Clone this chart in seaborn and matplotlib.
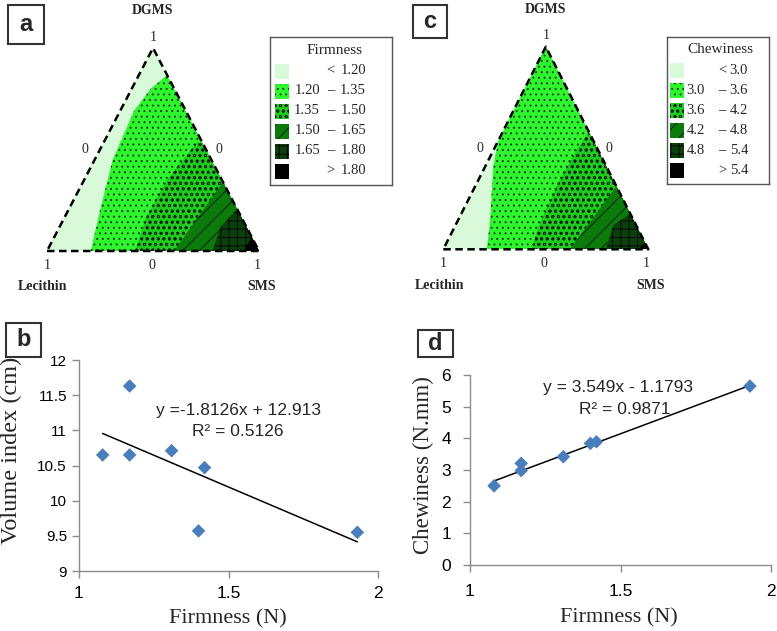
import numpy as np
import pandas as pd
import seaborn as sns
import matplotlib.pyplot as plt
from matplotlib.patches import Polygon, Rectangle

# --- data ---
firmness = [1.08, 1.17, 1.17, 1.31, 1.40, 1.42, 1.93]
volume_index = [10.65, 11.63, 10.65, 10.71, 9.57, 10.47, 9.55]
chewiness = [2.50, 3.21, 2.98, 3.42, 3.84, 3.89, 5.65]

fit_b = (-1.8126, 12.913, 0.5126)   # slope, intercept, R2
fit_d = (3.549, -1.1793, 0.9871)

firm_bins = [1.20, 1.35, 1.50, 1.65, 1.80]
chew_bins = [3.0, 3.6, 4.2, 4.8, 5.4]

# contour boundaries in the ternary triangle (u across the base, v up to DGMS apex)
firm_bounds = [
    ([0.206, 0.25, 0.31, 0.41, 0.49, 0.57, 0.70], [0.0, 0.20, 0.45, 0.69, 0.80, 0.87, 0.88]),
    ([0.415, 0.47, 0.566, 0.706, 0.80], [0.0, 0.17, 0.35, 0.534, 0.534]),
    ([0.60, 0.85, 0.90], [0.0, 0.37, 0.40]),
    ([0.78, 0.82, 0.90, 0.95], [0.0, 0.12, 0.21, 0.22]),
    ([0.93, 0.97, 1.00], [0.0, 0.08, 0.09]),
]
chew_bounds = [
    ([0.212, 0.228, 0.244, 0.27, 0.0], [0.0, 0.14, 0.41, 0.545, 1.2]),
    ([0.431, 0.463, 0.553, 0.65, 0.70, 0.80], [0.0, 0.11, 0.31, 0.49, 0.565, 0.565]),
    ([0.618, 0.85, 0.90], [0.0, 0.32, 0.34]),
    ([0.794, 0.83, 0.92], [0.0, 0.12, 0.18]),
    ([0.951, 0.99, 1.02], [0.0, 0.04, 0.05]),
]

fills = ['#d9fad9', '#2ef52e', '#1fcb1f', '#0c7a0c', '#0b3f0b', '#000000']
hatches = ['', '...', 'ooo', '//', '++', '']
hatch_cols = ['#d9fad9', '#0b2e0b', '#062a06', '#021c02', '#000000', '#000000']

W, H = 777, 631
sns.set_theme(style='white')
plt.rcParams['font.family'] = ['Liberation Sans', 'DejaVu Sans']
plt.rcParams['hatch.linewidth'] = 0.6
serif = ['Liberation Serif', 'DejaVu Serif']

fig = plt.figure(figsize=(W / 100, H / 100), dpi=100)


def px_axes(x0, y0, x1, y1):
    return fig.add_axes([x0 / W, 1 - y1 / H, (x1 - x0) / W, (y1 - y0) / H])


def draw_ternary(ax, bounds):
    ax.set_xlim(0, 1)
    ax.set_ylim(0, 1)
    ax.axis('off')
    tri = Polygon([(0, 0), (1, 0), (0.5, 1)], closed=True, fc=fills[0], ec='none')
    ax.add_patch(tri)
    for (u, v), fc, h, hc in zip(bounds, fills[1:], hatches[1:], hatch_cols[1:]):
        pts = [(u[0], -0.05)] + list(zip(u, v)) + [(1.5, v[-1]), (1.5, -0.05)]
        p = Polygon(pts, closed=True, fc=fc, ec=hc, hatch=h, lw=0)
        ax.add_patch(p)
        p.set_clip_path(tri)
    ax.plot([0, 1, 0.5, 0], [0, 0, 1, 0], color='black', ls=(0, (3, 1.8)),
            lw=1.8, clip_on=False)
    kw = dict(family=serif, fontsize=10, ha='center', va='center')
    ax.text(0.5, 1.185, 'DGMS', fontweight='bold', **kw)
    ax.text(0.5, 1.054, '1', **kw)
    ax.text(0.179, 0.5, '0', **kw)
    ax.text(0.81, 0.5, '0', **kw)
    ax.text(0.0, -0.069, '1', **kw)
    ax.text(0.493, -0.069, '0', **kw)
    ax.text(0.99, -0.069, '1', **kw)
    ax.text(-0.02, -0.177, 'Lecithin', fontweight='bold', **kw)
    ax.text(1.013, -0.177, 'SMS', fontweight='bold', **kw)


def draw_legend(box, title, bins, fmt, sw_x, title_x, lo_r, dash_c, hi_r):
    x0, y0, x1, y1 = box
    lax = px_axes(x0, y0, x1, y1)
    w, h = x1 - x0, y1 - y0
    lax.set_xlim(0, w)
    lax.set_ylim(h, 0)
    lax.set_xticks([])
    lax.set_yticks([])
    for s in lax.spines.values():
        s.set_color('#555555')
        s.set_linewidth(1.0)
    lax.text(title_x, 13, title, family=serif, fontsize=11, ha='center', va='center')
    rows = [('', '<', fmt.format(bins[0]))]
    rows += [(fmt.format(a), '\u2013', fmt.format(b)) for a, b in zip(bins[:-1], bins[1:])]
    rows += [('', '>', fmt.format(bins[-1]))]
    for i, (lo, mid, hi) in enumerate(rows):
        yc = 34 + 20 * i
        lax.add_patch(Rectangle((sw_x, yc - 7.5), 14, 15, fc=fills[i], ec=hatch_cols[i],
                                hatch=hatches[i], lw=0))
        kw = dict(family=serif, fontsize=10.5, va='center')
        lax.text(lo_r, yc, lo, ha='right', **kw)
        lax.text(dash_c, yc, mid, ha='center', **kw)
        lax.text(hi_r, yc, hi, ha='right', **kw)


# --- ternary panels ---
ax_a = px_axes(47, 48, 259, 251)
draw_ternary(ax_a, firm_bounds)
draw_legend((270, 37, 392, 185), 'Firmness', firm_bins, '{:.2f}', 5, 65, 50, 60.5, 96)

ax_c = px_axes(443.3, 46.7, 648.3, 249.3)
draw_ternary(ax_c, chew_bounds)
draw_legend((667, 37, 769, 184), 'Chewiness', chew_bins, '{:.1f}', 3, 53, 38, 55, 81)


# --- scatter panels ---
def style_axes(ax, xpad, ypad, ylab_size):
    sns.despine(ax=ax)
    for s in ['left', 'bottom']:
        ax.spines[s].set_color('#8c8c8c')
        ax.spines[s].set_linewidth(1.0)
    ax.tick_params(direction='out', length=5, width=1, color='#8c8c8c',
                   labelsize=12.5, labelcolor='black', left=True, bottom=True)
    ax.tick_params(axis='x', pad=xpad)
    ax.tick_params(axis='y', pad=ypad, labelsize=ylab_size)
    ax.grid(False)


df = pd.DataFrame({'Firmness': firmness, 'Volume': volume_index, 'Chewiness': chewiness})
marker_col = '#4a7ebb'

ax_b = px_axes(78.7, 360, 378.3, 571)
sns.scatterplot(data=df, x='Firmness', y='Volume', marker='D', s=48, color=marker_col,
                edgecolor='none', ax=ax_b, zorder=3)
xl = np.array([min(firmness), max(firmness)])
sns.lineplot(x=xl, y=fit_b[0] * xl + fit_b[1], color='black', lw=1.1, ax=ax_b)
ax_b.set_xlim(1, 2)
ax_b.set_ylim(9, 12)
ax_b.set_xticks([1, 1.5, 2], ['1', '1.5', '2'])
ax_b.set_yticks(np.arange(9, 12.01, 0.5), ['9', '9.5', '10', '10.5', '11', '11.5', '12'])
style_axes(ax_b, 6, 3.5, 11)
ax_b.set_xlabel('Firmness (N)', family=serif, fontsize=16)
ax_b.set_ylabel('Volume index (cm)', family=serif, fontsize=17.5)
ax_b.xaxis.set_label_coords(0.498, -0.227)
ax_b.xaxis.label.set_va('center')
ax_b.yaxis.set_label_coords(-0.223, 0.57)
ax_b.yaxis.label.set_va('center')
ax_b.text(0.532, 0.763, f'y =-{abs(fit_b[0])}x + {fit_b[1]}', transform=ax_b.transAxes,
          ha='center', va='center', fontsize=12.5)
ax_b.text(0.532, 0.659, f'R\u00b2 = {fit_b[2]}', transform=ax_b.transAxes,
          ha='center', va='center', fontsize=12.5)

ax_d = px_axes(470, 375, 771, 565)
sns.scatterplot(data=df, x='Firmness', y='Chewiness', marker='D', s=48, color=marker_col,
                edgecolor='none', ax=ax_d, zorder=3)
sns.lineplot(x=xl, y=fit_d[0] * xl + fit_d[1], color='black', lw=1.1, ax=ax_d)
ax_d.set_xlim(1, 2)
ax_d.set_ylim(0, 6)
ax_d.set_xticks([1, 1.5, 2], ['1', '1.5', '2'])
ax_d.set_yticks(range(0, 7))
style_axes(ax_d, 9, 8.5, 12.5)
ax_d.set_xlabel('Firmness (N)', family=serif, fontsize=16)
ax_d.set_ylabel('Chewiness (N.mm)', family=serif, fontsize=16.5)
ax_d.xaxis.set_label_coords(0.495, -0.279)
ax_d.xaxis.label.set_va('center')
ax_d.yaxis.set_label_coords(-0.153, 0.526)
ax_d.yaxis.label.set_va('center')
ax_d.text(0.492, 0.932, f'y = {fit_d[0]}x - {abs(fit_d[1])}', transform=ax_d.transAxes,
          ha='center', va='center', fontsize=12.5)
ax_d.text(0.515, 0.816, f'R\u00b2 = {fit_d[2]}', transform=ax_d.transAxes,
          ha='center', va='center', fontsize=12.5)

# --- panel letters ---
for letter, (x0, y0, x1, y1) in zip('abcd', [(8, 5, 44, 44), (6, 323, 41, 357),
                                             (413, 5, 447, 38), (418, 330, 453, 357)]):
    fig.add_artist(Rectangle((x0 / W, 1 - y1 / H), (x1 - x0) / W, (y1 - y0) / H,
                             transform=fig.transFigure, fill=False, ec='#333333', lw=1.5))
    fig.text((x0 + x1) / 2 / W, 1 - (y0 + y1) / 2 / H, letter, ha='center', va='center',
             fontsize=17, fontweight='bold')

fig.savefig('out.png', dpi=100)
